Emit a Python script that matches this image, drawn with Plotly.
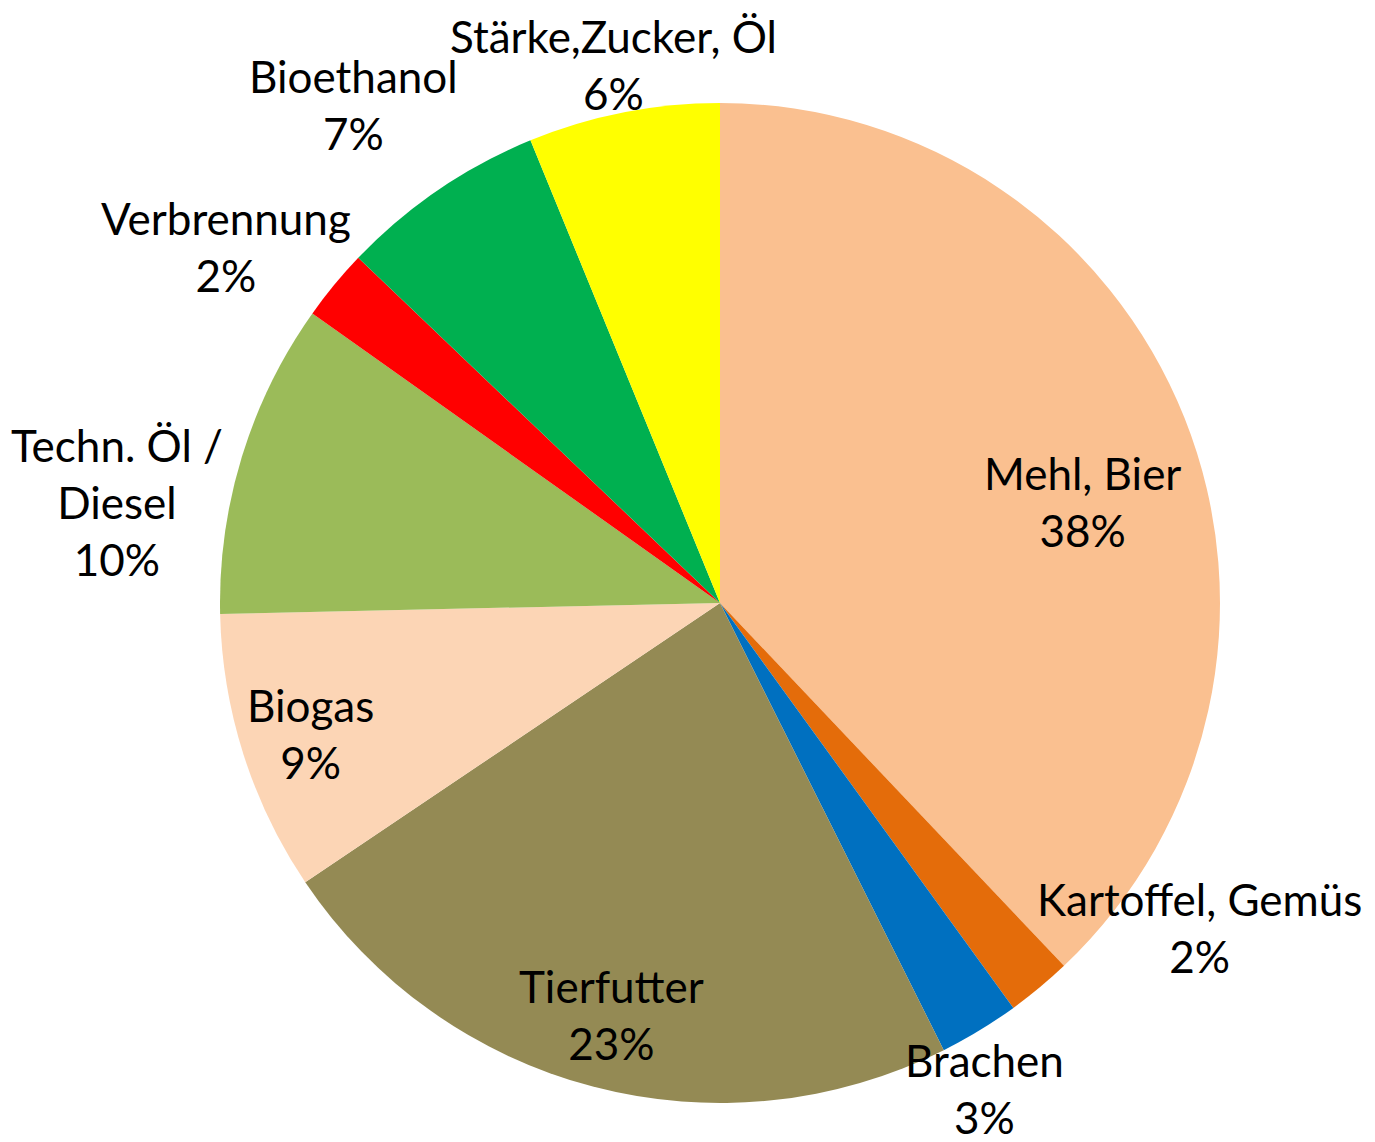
import math
import plotly.graph_objects as go

labels = ["Mehl, Bier", "Kartoffel, Gemüs", "Brachen", "Tierfutter", "Biogas",
          "Techn. Öl /<br>Diesel", "Verbrennung", "Bioethanol", "Stärke,Zucker, Öl"]
values = [38.0, 2.1, 2.6, 23.0, 9.1, 10.2, 2.3, 6.7, 6.2]
colors = ["#FAC090", "#E46C0A", "#0070C0", "#948A54", "#FCD5B5",
          "#9BBB59", "#FF0000", "#00B050", "#FFFF00"]

# label placement styling: radius factor and pixel nudges
label_k = [0.78, 1.17, 1.11, 0.85, 0.86, 1.22, 1.22, 1.24, 1.106]
label_dx = [0, 106, -23, 0, 0, -20, -23, -17, 0]
label_dy = [-43, 126, -11, 0, 0, -78, -32, -14, -4]

W, H = 1375, 1142
cx, cy, r = 712, 595, 500

fig = go.Figure(go.Pie(
    labels=labels, values=values, sort=False, direction="clockwise", rotation=0,
    marker=dict(colors=colors, line=dict(width=0)),
    textinfo="none",
    showlegend=False,
    domain=dict(x=[(cx - r) / W, (cx + r) / W], y=[(H - cy - r) / H, (H - cy + r) / H]),
    hoverinfo="label+percent",
))

total = sum(values)
cum = 0.0
for lab, v, k, dx, dy in zip(labels, values, label_k, label_dx, label_dy):
    mid = (cum + v / 2) / total * 2 * math.pi
    cum += v
    px = cx + math.sin(mid) * r * k
    py = cy - math.cos(mid) * r * k
    pct = round(v / total * 100)
    fig.add_annotation(
        x=px / W, y=1 - py / H, xref="paper", yref="paper",
        xanchor="center", yanchor="middle", xshift=dx, yshift=dy,
        text=f"{lab}<br>{pct}%", showarrow=False, align="center",
        font=dict(family="Lato", size=44, color="black"),
    )

fig.update_layout(width=W, height=H, margin=dict(l=0, r=0, t=0, b=0),
                  paper_bgcolor="white", plot_bgcolor="white")
fig.write_html("out.html")
